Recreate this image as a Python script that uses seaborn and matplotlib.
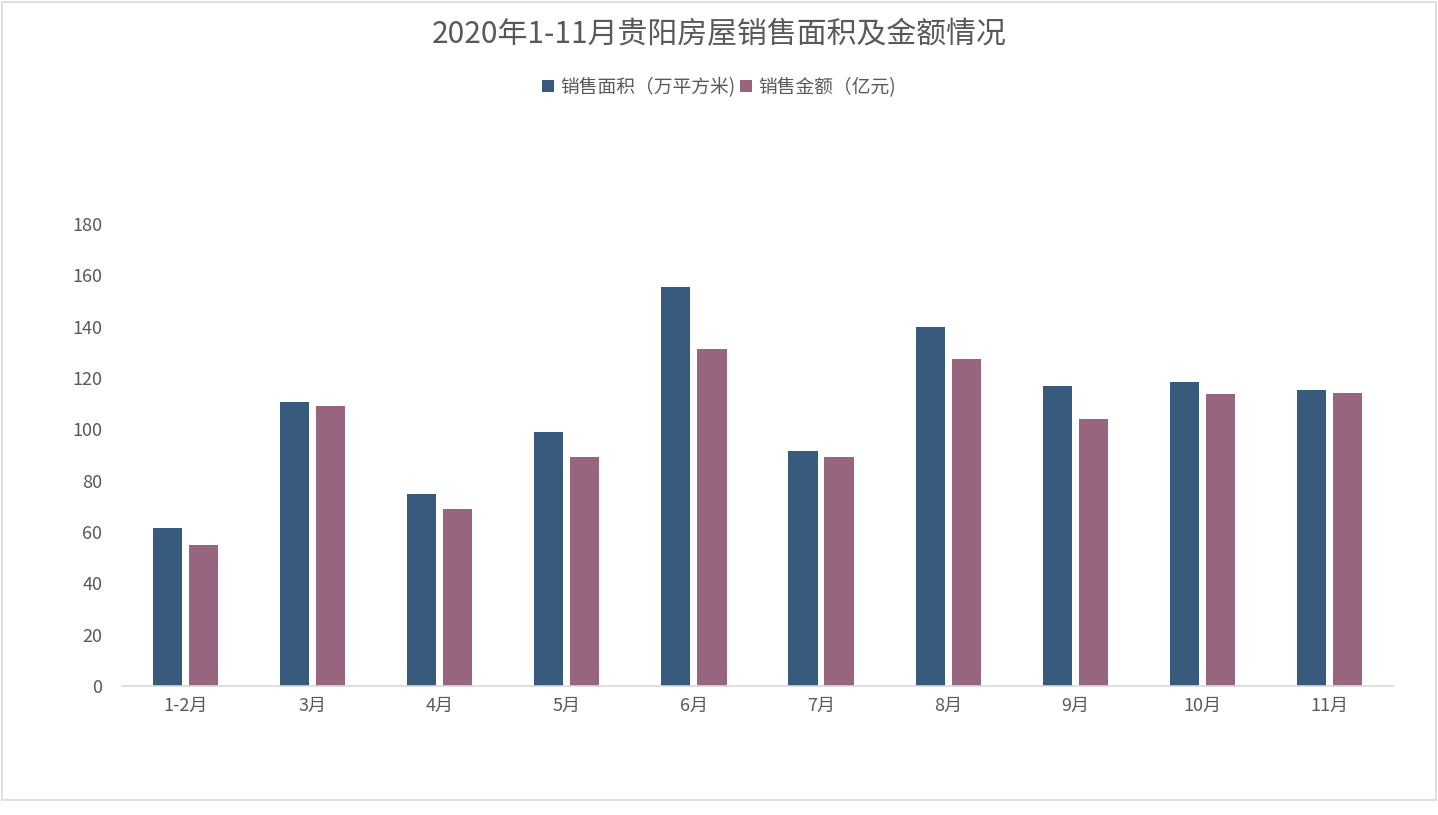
import pandas as pd
import numpy as np
import matplotlib.pyplot as plt
import seaborn as sns
from matplotlib.patches import Rectangle

months = ['1-2月', '3月', '4月', '5月', '6月', '7月', '8月', '9月', '10月', '11月']
area = [61.6, 110.7, 74.8, 98.9, 155.5, 91.5, 140.0, 117.0, 118.6, 115.5]
amount = [55.1, 109.2, 69.0, 89.2, 131.4, 89.2, 127.5, 104.2, 113.9, 114.3]
series = ['销售面积（万平方米)', '销售金额（亿元)']

df = pd.DataFrame({'month': months, series[0]: area, series[1]: amount})
df = df.melt(id_vars='month', var_name='series', value_name='value')

sns.set_theme(style="white")
plt.rcParams['font.family'] = ['Noto Sans CJK SC', 'DejaVu Sans']

fig = plt.figure(figsize=(14.38, 8.15), dpi=100)
ax = fig.add_axes([0.0848, 0.1583, 0.8839, 0.5669])

sns.barplot(data=df, x='month', y='value', hue='series', order=months,
            palette=['#375A7D', '#98657F'], width=0.567, gap=0.19,
            saturation=1, linewidth=0, ax=ax)

ax.set_ylim(0, 180)
ax.set_yticks(np.arange(0, 181, 20))
ax.set_xlim(-0.5, len(months) - 0.5)
ax.set_xlabel('')
ax.set_ylabel('')
ax.tick_params(axis='both', length=0, labelsize=13, colors='#595959')
ax.tick_params(axis='y', pad=14)
ax.tick_params(axis='x', pad=8)
for s in ['top', 'right', 'left']:
    ax.spines[s].set_visible(False)
ax.spines['bottom'].set_color('#D9D9D9')
ax.spines['bottom'].set_linewidth(1.2)

handles, labels = ax.get_legend_handles_labels()
ax.legend(handles, labels, loc='center', bbox_to_anchor=(0.5, 0.893),
          bbox_transform=fig.transFigure, ncol=2, frameon=False,
          handlelength=0.65, handleheight=0.65, handletextpad=0.35,
          columnspacing=0.2, fontsize=13.5, labelcolor='#595959')

fig.text(0.5, 0.957, '2020年1-11月贵阳房屋销售面积及金额情况', ha='center', va='center',
         fontsize=21.5, color='#595959')

fig.patches.append(Rectangle((0.0015, 0.018), 0.997, 0.98, transform=fig.transFigure,
                             fill=False, edgecolor='#D9D9D9', linewidth=1.2))

fig.savefig('out.png', dpi=100)
